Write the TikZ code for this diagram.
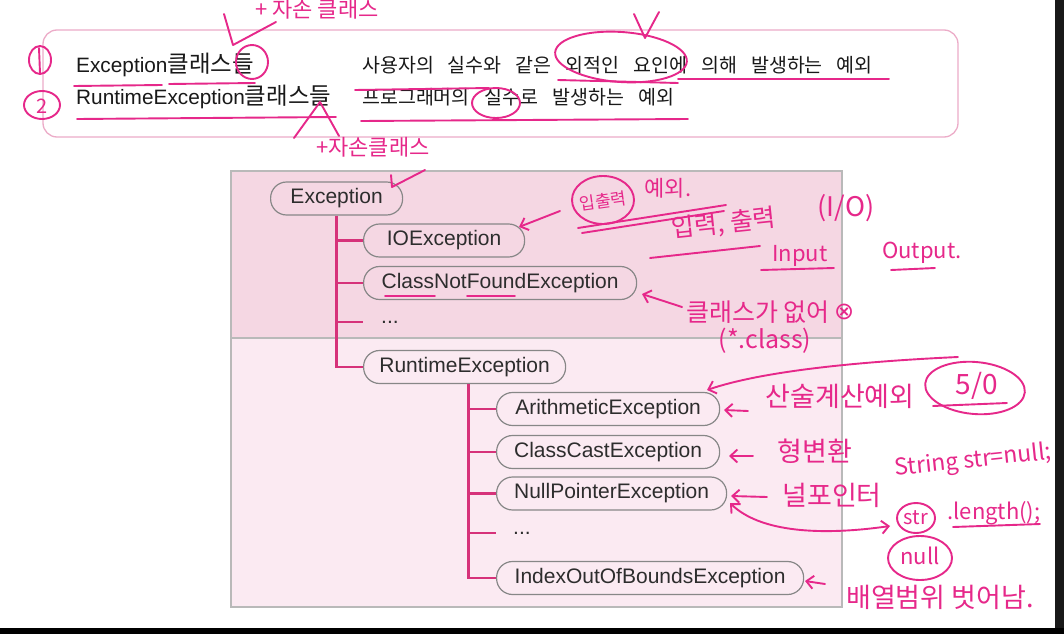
\documentclass[tikz,border=0pt]{standalone}
\usepackage{fontspec}
\setmainfont{Liberation Sans}
\newfontfamily\kr{Noto Sans CJK KR}
\newfontfamily\nodef{Liberation Sans}
\newfontfamily\sym{DejaVu Sans}
\usetikzlibrary{arrows.meta}
\definecolor{pen}{RGB}{230,40,138}
\definecolor{upbg}{RGB}{245,215,227}
\definecolor{lowbg}{RGB}{251,234,242}
\definecolor{boxline}{RGB}{185,185,185}
\definecolor{nodeline}{RGB}{135,135,135}
\definecolor{tree}{RGB}{214,50,122}
\definecolor{frame}{RGB}{236,172,200}
\definecolor{rightbar}{RGB}{25,25,25}
\definecolor{txt}{RGB}{45,45,45}
\begin{document}
\begin{tikzpicture}[x=1pt,y=-1pt,
  exc/.style={draw=nodeline, line width=1.2pt, rounded corners=16pt, minimum height=33pt,
    inner xsep=6pt, inner ysep=0pt, anchor=west, text=txt, font=\nodef\fontsize{21}{21}\selectfont},
  dots/.style={anchor=west, inner sep=0pt, text=txt, font=\nodef\fontsize{21}{21}\selectfont},
  branch/.style={draw=tree, line width=2.4pt},
  ink/.style={draw=pen, line width=1.9pt, line cap=round, line join=round},
  inkarrow/.style={ink, -{Straight Barb[length=7pt,width=13pt]}},
  hand/.style={text=pen, inner sep=0pt, font=\kr\fontsize{22}{22}\selectfont},
  lefttext/.style={anchor=base west, inner sep=0pt, text=black!90, font=\nodef\fontsize{20.8}{20.8}\selectfont},
  righttext/.style={anchor=base west, inner sep=0pt, text=black!90, font=\kr\fontsize{19.5}{19.5}\selectfont},
  ]
\useasboundingbox (0,0) rectangle (1064,634);
\fill[white] (0,0) rectangle (1064,634);
\fill[black] (0,628) rectangle (1064,634);
\fill[rightbar] (1055,0) rectangle (1064,628);

% ---------- top summary box ----------
\draw[frame, line width=1.3pt, rounded corners=14pt] (43,30) rectangle (958,137);
\node[lefttext] (d1) at (76,72) {Exception{\kr\fontsize{23.5}{23.5}\selectfont 클래스들}};
\node[righttext] (e1) at (362,72) {\spaceskip=14pt\relax 사용자의 실수와 같은 외적인 요인에 의해 발생하는 예외};
\node[lefttext] (d2) at (76,104) {RuntimeException{\kr\fontsize{23.5}{23.5}\selectfont 클래스들}};
\node[righttext] (e2) at (362,104) {\spaceskip=14.5pt\relax 프로그래머의 실수로 발생하는 예외};

% ---------- hierarchy box ----------
\fill[upbg] (231,171) rectangle (842,338);
\fill[lowbg] (231,338) rectangle (842,607);
\draw[boxline, line width=1.2pt] (231,338) -- (842,338);
\draw[boxline, line width=1.4pt] (231,171) rectangle (842,607);

\node[exc, minimum width=132pt] (exc) at (270,198.5) {Exception};
\node[exc, minimum width=161pt] (io) at (363,240.5) {IOException};
\node[exc, minimum width=273pt] (cnf) at (363,283) {ClassNotFoundException};
\node[dots] (dots1) at (381,322) {...};
\node[exc, minimum width=202pt] (rt) at (363,367) {RuntimeException};
\node[exc, minimum width=223pt] (ar) at (496,409) {ArithmeticException};
\node[exc, minimum width=223pt] (cc) at (496,452) {ClassCastException};
\node[exc, minimum width=230pt] (np) at (496,493.5) {NullPointerException};
\node[dots] (dots2) at (513,533) {...};
\node[exc, minimum width=307pt] (ioob) at (496,578) {IndexOutOfBoundsException};

\coordinate (v1) at (exc.south);
\draw[branch] (v1) |- (rt.west);
\draw[branch] (v1 |- io.west) -- (io.west);
\draw[branch] (v1 |- cnf.west) -- (cnf.west);
\draw[branch] (v1 |- dots1.west) -- (dots1.west -| io.west);
\coordinate (v2) at ([xshift=4pt]rt.south);
\draw[branch] (v2) |- (ioob.west);
\draw[branch] (v2 |- ar.west) -- (ar.west);
\draw[branch] (v2 |- cc.west) -- (cc.west);
\draw[branch] (v2 |- np.west) -- (np.west);
\draw[branch] (v2 |- dots2.west) -- (dots2.west -| ar.west);

% ---------- handwritten annotations ----------
% numbers
\draw[ink] (40,60) ellipse (11 and 14);
\draw[ink] (39,48) -- (40,73);
\draw[ink] (42,105) ellipse (18 and 14);
\node[hand, font=\kr\fontsize{20}{20}\selectfont] (two) at (42,106) {2};
% underlines top box
\draw[ink] (74,86) -- (162,85);
\draw[ink] (169,84) -- (255,83);
\draw[ink] (355,90) -- (489,88);
\draw[ink] (558,80) -- (678,83);
\draw[ink] (678,79) -- (889,79);
\draw[ink] (77,119) -- (336,117);
\draw[ink] (361,121) -- (688,119);
% circles and marks
\draw[ink] (252,62) ellipse (16 and 17);
\draw[ink] (224,14) -- (233,45) -- (276,22);
\node[hand] (a1) at (317,9) {+ 자손 클래스};
\draw[ink] (294,138) -- (320,102) -- (339,136);
\node[hand] (a2) at (373,147) {+자손클래스};
\draw[ink, rotate around={-4:(621,57)}] (621,57) ellipse (66 and 25);
\draw[ink] (634,14) -- (645,38) -- (659,12);
\draw[ink] (496,103) ellipse (24 and 15);
% hierarchy annotations
\draw[ink] (391,175) -- (392,187) -- (425,170);
\draw[ink] (385,296) -- (435,296);
\draw[ink] (467,296) -- (515,296);
\draw[inkarrow] (560,211) -- (519,227);
\draw[ink] (603,200) ellipse (31 and 24);
\node[hand, font=\kr\fontsize{17}{17}\selectfont, rotate=8] (io1) at (603,201) {입출력};
\node[hand, font=\kr\fontsize{22}{22}\selectfont] (io2) at (668,188) {예외.};
\draw[ink] (578,228) -- (726,205);
\draw[ink] (582,233) -- (724,211);
\node[hand, font=\kr\fontsize{25}{25}\selectfont, rotate=6] (io3) at (724,224) {입력, 출력};
\node[hand, font=\kr\fontsize{27}{27}\selectfont] (io3b) at (846,208) {(I/O)};
\draw[ink] (650,258) -- (760,246);
\node[hand, font=\kr\fontsize{22}{22}\selectfont] (io4) at (800,256) {Input};
\node[hand, font=\kr\fontsize{22}{22}\selectfont] (io5) at (922,253) {Output.};
\draw[ink] (761,270) -- (834,268);
\draw[ink] (891,270) -- (935,268);
\draw[inkarrow] (682,307) -- (642,294);
\node[hand, font=\kr\fontsize{25}{25}\selectfont, anchor=west] (cn1) at (686,312) {클래스가 없어};
\node[hand, font=\sym\fontsize{24}{24}\selectfont, anchor=west] (cn2) at ([xshift=4pt]cn1.east) {⊗};
\node[hand, font=\kr\fontsize{25}{25}\selectfont] (cn3) at (765,341) {(*.class)};
\draw[inkarrow] (958,357) .. controls (850,362) and (760,372) .. (707,390);
\draw[inkarrow] (748,411) -- (724,410);
\node[hand, font=\kr\fontsize{27}{27}\selectfont] (ar1) at (840,396) {산술계산예외};
\draw[ink, rotate around={-5:(975,388)}] (975,388) ellipse (50 and 26);
\node[hand, font=\kr\fontsize{28}{28}\selectfont] (ar2) at (977,386) {5/0};
\draw[ink] (933,406) -- (1007,403);
\draw[inkarrow] (753,456) -- (729,456);
\node[hand, font=\kr\fontsize{27}{27}\selectfont] (cc1) at (815,451) {형변환};
\draw[inkarrow] (767,497) -- (731,496);
\node[hand, font=\kr\fontsize{27}{27}\selectfont] (np1) at (832,495) {널포인터};
\draw[ink, {Straight Barb[length=7pt,width=13pt]}-{Straight Barb[length=7pt,width=13pt]}] (730,503) .. controls (760,532) and (820,536) .. (890,526);
\node[hand, font=\kr\fontsize{23}{23}\selectfont, rotate=6] (s1) at (973,461) {String str=null;};
\draw[ink] (916,518) ellipse (19 and 15);
\node[hand, font=\kr\fontsize{20}{20}\selectfont] (s2) at (916,518) {str};
\node[hand, font=\kr\fontsize{22}{22}\selectfont] (s3) at (994,513) {.length();};
\draw[ink] (953,527) -- (1040,524);
\draw[ink] (920,558) ellipse (32 and 22);
\node[hand, font=\kr\fontsize{22}{22}\selectfont] (s4) at (920,556) {null};
\draw[inkarrow] (825,584) -- (805,581);
\node[hand, font=\kr\fontsize{27}{27}\selectfont] (ix1) at (940,597) {배열범위 벗어남.};
\end{tikzpicture}
\end{document}
